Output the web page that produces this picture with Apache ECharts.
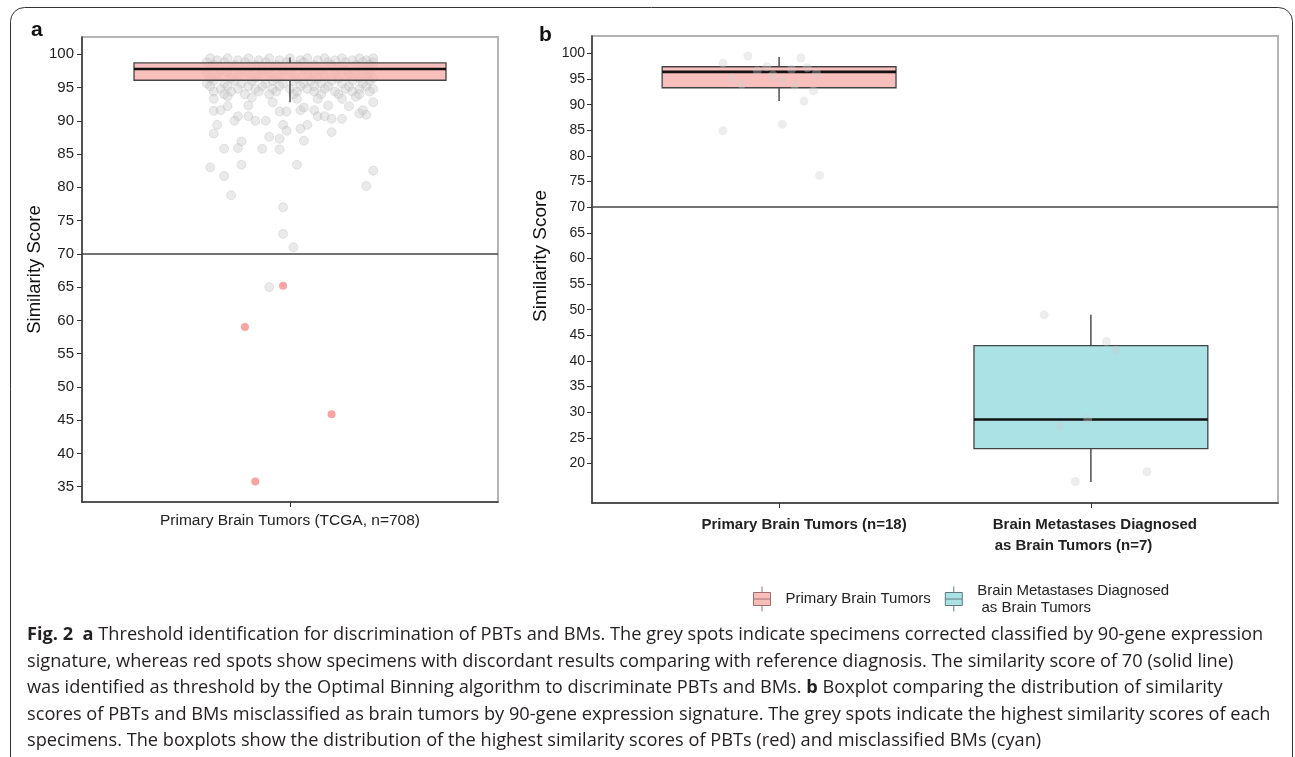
<!DOCTYPE html>
<html lang="en">
<head>
<meta charset="UTF-8" />
<title>Fig. 2</title>
<script src="https://cdn.jsdelivr.net/npm/echarts@6/dist/echarts.min.js"></script>
<style>
    html, body { margin: 0; padding: 0; background: #fff; }
    #chart { width: 1295px; height: 757px; }
</style>
</head>
<body>
<div id="chart"></div>
<script>
// ---- panel a : TCGA primary brain tumors ----
var tcgaLabel = 'Primary Brain Tumors (TCGA, n=708)';
// x, min, q1, median, q3, max
var tcgaBox = [0, 92.8, 96.1, 97.8, 98.7, 99.5];
// dense band: score -> jitter offsets
var tcgaBand = [
    [99.4, [-0.23, -0.18, -0.12, -0.06, 0.0, 0.05, 0.1, 0.15, 0.2, 0.24]],
    [99.1, [-0.21, -0.15, -0.09, -0.03, 0.03, 0.08, 0.13, 0.18, 0.22]],
    [98.8, [-0.24, -0.19, -0.13, -0.07, -0.01, 0.04, 0.11, 0.16, 0.21, 0.24]],
    [98.4, [-0.22, -0.16, -0.1, -0.04, 0.02, 0.07, 0.12, 0.19, 0.23]],
    [98.0, [-0.23, -0.17, -0.11, -0.05, 0.01, 0.06, 0.14, 0.2, 0.24]],
    [97.6, [-0.2, -0.14, -0.08, -0.02, 0.04, 0.09, 0.16, 0.22]],
    [97.2, [-0.24, -0.18, -0.12, -0.06, 0.0, 0.07, 0.13, 0.19, 0.23]],
    [96.8, [-0.21, -0.15, -0.09, -0.03, 0.05, 0.1, 0.17, 0.22]],
    [96.4, [-0.23, -0.17, -0.1, -0.04, 0.02, 0.08, 0.14, 0.2, 0.24]],
    [96.0, [-0.22, -0.16, -0.11, -0.05, 0.01, 0.06, 0.12, 0.18, 0.23]],
    [95.6, [-0.24, -0.19, -0.14, -0.07, -0.02, 0.04, 0.09, 0.15, 0.21]],
    [95.2, [-0.23, -0.18, -0.12, -0.08, -0.03, 0.03, 0.07, 0.11, 0.17, 0.22]],
    [94.8, [-0.2, -0.15, -0.1, -0.05, 0.0, 0.05, 0.1, 0.16, 0.2, 0.24]],
    [94.4, [-0.22, -0.17, -0.09, -0.04, 0.02, 0.07, 0.13, 0.18, 0.23]],
    [94.0, [-0.19, -0.13, -0.06, 0.01, 0.09, 0.14, 0.2]]
];
// scattered grey specimens [jitter, score]
var tcgaSparse = [
    [-0.22, 93.3], [-0.18, 93.7], [-0.11, 93.5], [0.02, 93.3], [0.08, 93.3], [0.15, 93.3], [0.19, 93.6],
    [-0.05, 92.8], [0.04, 92.0], [0.24, 92.8], [-0.18, 92.2], [-0.12, 92.3], [0.11, 92.3], [0.17, 92.2],
    [-0.22, 91.5], [-0.2, 91.6], [-0.03, 91.4], [-0.01, 91.4], [0.03, 91.6], [0.07, 91.6], [0.21, 91.6],
    [-0.15, 90.7], [-0.12, 90.7], [0.08, 90.7], [0.1, 90.7], [0.22, 90.9], [0.2, 91.1],
    [-0.16, 90.0], [-0.1, 90.0], [-0.07, 90.0], [0.12, 90.3], [0.15, 90.3],
    [-0.21, 89.4], [-0.02, 89.4], [0.05, 89.4], [-0.01, 88.5], [0.03, 88.8],
    [-0.22, 88.1], [0.12, 88.3], [-0.06, 87.6], [-0.03, 87.3], [0.04, 87.0], [-0.14, 86.9],
    [-0.19, 85.8], [-0.15, 85.9], [-0.08, 85.8], [-0.03, 85.7],
    [-0.23, 83.0], [-0.14, 83.4], [0.02, 83.4], [0.24, 82.5], [-0.19, 81.7], [0.22, 80.2],
    [-0.17, 78.8], [-0.02, 77.0], [-0.02, 73.0], [0.01, 71.0], [-0.06, 65.0]
];
// discordant specimens (red)
var tcgaRed = [[-0.02, 65.2], [-0.13, 59.0], [0.12, 45.9], [-0.1, 35.8]];
var ticksA = [35, 40, 45, 50, 55, 60, 65, 70, 75, 80, 85, 90, 95, 100];

// ---- panel b : PBTs vs misclassified BMs ----
var groupNames = ['Primary Brain Tumors', 'Brain Metastases Diagnosed\n as Brain Tumors'];
var groupLabels = ['{p1|Primary Brain Tumors (n=18)}', '{p2|Brain Metastases Diagnosed}\n{p3| as Brain Tumors (n=7)}'];
var pbtBox = [1, 90.7, 93.3, 96.4, 97.4, 99.3];
var bmBox = [2, 16.4, 22.9, 28.6, 43.0, 49.0];
var pbtPoints = [
    [0.82, 98.1], [0.9, 99.5], [0.85, 95.2], [0.96, 97.4], [1.01, 94.8], [1.07, 99.1],
    [1.09, 97.2], [1.12, 96.2], [1.11, 92.7], [1.08, 90.7], [1.01, 86.2], [0.82, 84.9],
    [1.13, 76.2], [0.93, 96.6], [1.04, 96.9], [0.88, 94.0], [1.05, 93.8], [0.98, 95.8]
];
var bmPoints = [[1.85, 49.0], [2.05, 43.8], [2.08, 42.1], [1.9, 27.3], [1.99, 28.7], [1.95, 16.5], [2.18, 18.4]];
var ticksB = [20, 25, 30, 35, 40, 45, 50, 55, 60, 65, 70, 75, 80, 85, 90, 95, 100];
var threshold = 70;

var PINK = 'rgba(248,180,176,0.85)';
var CYAN = 'rgba(165,224,228,0.95)';
var FONT = 'Liberation Sans';

var tcgaGrey = [];
tcgaBand.forEach(function (row) {
    row[1].forEach(function (dx) { tcgaGrey.push([dx, row[0]]); });
});
tcgaGrey = tcgaGrey.concat(tcgaSparse);

function boxRenderer(half, fill) {
    return function (params, api) {
        var x = api.value(0);
        var lo = api.coord([x, api.value(1)]);
        var q1 = api.coord([x, api.value(2)]);
        var q3 = api.coord([x, api.value(4)]);
        var hi = api.coord([x, api.value(5)]);
        var l = api.coord([x - half, api.value(3)]);
        var r = api.coord([x + half, api.value(3)]);
        var line = { stroke: '#333', lineWidth: 1.3 };
        return {
            type: 'group',
            children: [
                { type: 'line', shape: { x1: lo[0], y1: lo[1], x2: q1[0], y2: q1[1] }, style: line },
                { type: 'line', shape: { x1: q3[0], y1: q3[1], x2: hi[0], y2: hi[1] }, style: line },
                { type: 'rect', shape: { x: l[0], y: q3[1], width: r[0] - l[0], height: q1[1] - q3[1] },
                  style: { fill: fill, stroke: '#444', lineWidth: 1.3 } },
                { type: 'line', shape: { x1: l[0], y1: l[1], x2: r[0], y2: r[1] }, style: { stroke: '#111', lineWidth: 2.6 } }
            ]
        };
    };
}

function yAxis(grid, min, max, ticks, size, margin, gap, titleSize, titlePad) {
    return {
        gridIndex: grid, type: 'value', min: min, max: max,
        axisLine: { show: true, onZero: false, lineStyle: { color: '#333', width: 1.5 } },
        axisTick: { show: true, customValues: ticks, length: 5, lineStyle: { color: '#333' } },
        axisLabel: { customValues: ticks, fontSize: size, color: '#222', margin: margin, fontFamily: FONT },
        splitLine: { show: false },
        name: 'Similarity Score', nameLocation: 'middle', nameGap: gap,
        nameTextStyle: { fontSize: titleSize, color: '#111', fontFamily: FONT, padding: titlePad }
    };
}

var thresholdLine = {
    symbol: 'none', silent: true, label: { show: false },
    lineStyle: { color: '#444', width: 1.5, type: 'solid' },
    data: [{ yAxis: threshold }]
};

var caption = [
    '{b|Fig. 2}  {b|a} Threshold identification for discrimination of PBTs and BMs. The grey spots indicate specimens corrected classified by 90-gene expression',
    'signature, whereas red spots show specimens with discordant results comparing with reference diagnosis. The similarity score of 70 (solid line)',
    'was identified as threshold by the Optimal Binning algorithm to discriminate PBTs and BMs. {b|b} Boxplot comparing the distribution of similarity',
    'scores of PBTs and BMs misclassified as brain tumors by 90-gene expression signature. The grey spots indicate the highest similarity scores of each',
    'specimens. The boxplots show the distribution of the highest similarity scores of PBTs (red) and misclassified BMs (cyan)'
];

var boxIcon = 'path://M8.5,0L8.5,6M0,6L17,6L17,19L0,19ZM0,12.5L17,12.5M8.5,19L8.5,25';

var labelFont = { fontSize: 15, fontWeight: 'bold', color: '#222', fontFamily: FONT, lineHeight: 21 };

var chart = echarts.init(document.getElementById('chart'));
var option = {
    animation: false,
    textStyle: { fontFamily: FONT },
    grid: [
        { left: 82, top: 37, width: 416, height: 465, show: true, borderColor: '#b5b5b5', borderWidth: 2 },
        { left: 592, top: 36, width: 686, height: 467, show: true, borderColor: '#b5b5b5', borderWidth: 2 }
    ],
    xAxis: [
        {
            gridIndex: 0, type: 'value', min: -0.6, max: 0.6,
            axisLine: { show: true, onZero: false, lineStyle: { color: '#333', width: 1.5 } },
            axisTick: { show: true, customValues: [0], length: 5, lineStyle: { color: '#333' } },
            axisLabel: { customValues: [0], formatter: function () { return tcgaLabel; },
                         fontSize: 15.5, color: '#222', margin: 11 },
            splitLine: { show: false }
        },
        {
            gridIndex: 1, type: 'value', min: 0.4, max: 2.6,
            axisLine: { show: true, onZero: false, lineStyle: { color: '#333', width: 1.5 } },
            axisTick: { show: true, customValues: [1, 2], length: 5, lineStyle: { color: '#333' } },
            axisLabel: {
                customValues: [1, 2], formatter: function (v) { return groupLabels[Math.round(v) - 1]; },
                fontSize: 15, fontWeight: 'bold', color: '#222', margin: 11, lineHeight: 21,
                rich: {
                    p1: Object.assign({ padding: [0, 0, 0, 50] }, labelFont),
                    p2: Object.assign({ padding: [0, 0, 0, 8] }, labelFont),
                    p3: Object.assign({ padding: [0, 39, 0, 0] }, labelFont)
                }
            },
            splitLine: { show: false }
        }
    ],
    yAxis: [
        yAxis(0, 32.7, 102.6, ticksA, 15, 8, 38, 18.5, 0),
        yAxis(1, 12.3, 103.4, ticksB, 14, 7, 40, 19, [0, 0, 0, 27])
    ],
    legend: {
        left: 753, top: 582, padding: 0, itemWidth: 17, itemHeight: 25, itemGap: 14,
        selectedMode: false, icon: boxIcon,
        textStyle: { fontSize: 15, color: '#222', lineHeight: 17, padding: [0, 0, 0, 10] },
        data: [
            { name: groupNames[0], itemStyle: { color: '#F8BDB9', borderColor: '#a07070', borderWidth: 1 } },
            { name: groupNames[1], itemStyle: { color: '#A9E2E5', borderColor: '#607a7c', borderWidth: 1 } }
        ]
    },
    series: [
        {
            name: 'TCGA specimens', type: 'scatter', xAxisIndex: 0, yAxisIndex: 0, z: 2,
            symbolSize: 9, data: tcgaGrey,
            itemStyle: { color: 'rgba(196,196,196,0.45)', borderColor: 'rgba(160,160,160,0.35)', borderWidth: 0.8 },
            markLine: thresholdLine
        },
        {
            name: 'TCGA box', type: 'custom', xAxisIndex: 0, yAxisIndex: 0, z: 3,
            renderItem: boxRenderer(0.45, PINK), encode: { x: 0, y: [1, 2, 3, 4, 5] },
            data: [tcgaBox]
        },
        {
            name: 'Discordant', type: 'scatter', xAxisIndex: 0, yAxisIndex: 0, z: 4,
            symbolSize: 8, data: tcgaRed,
            itemStyle: { color: 'rgba(248,122,118,0.85)' }
        },
        {
            name: groupNames[0], type: 'custom', xAxisIndex: 1, yAxisIndex: 1, z: 3,
            renderItem: boxRenderer(0.375, PINK), encode: { x: 0, y: [1, 2, 3, 4, 5] },
            data: [pbtBox]
        },
        {
            name: groupNames[1], type: 'custom', xAxisIndex: 1, yAxisIndex: 1, z: 3,
            renderItem: boxRenderer(0.375, CYAN), encode: { x: 0, y: [1, 2, 3, 4, 5] },
            data: [bmBox]
        },
        {
            name: 'Specimens', type: 'scatter', xAxisIndex: 1, yAxisIndex: 1, z: 4,
            symbolSize: 9, data: pbtPoints.concat(bmPoints),
            itemStyle: { color: 'rgba(205,205,205,0.45)' },
            markLine: thresholdLine
        }
    ],
    graphic: [
        { type: 'rect', shape: { x: 10.5, y: 7.5, width: 1282, height: 820, r: 14 },
          style: { fill: 'none', stroke: '#333', lineWidth: 1 }, silent: true },
        { type: 'text', left: 31, top: 20, style: { text: 'a', font: 'bold 21px "Liberation Sans"', fill: '#111' } },
        { type: 'text', left: 539, top: 25, style: { text: 'b', font: 'bold 21px "Liberation Sans"', fill: '#111' } },
        {
            type: 'text', left: 27, top: 622,
            style: {
                text: caption.join('\n'), fill: '#231f20',
                fontSize: 18.2, fontFamily: 'Open Sans', lineHeight: 26.5,
                rich: { b: { fontWeight: 'bold', fontSize: 18.2, fontFamily: 'Open Sans', lineHeight: 26.5 } }
            }
        }
    ]
};
chart.setOption(option);
window.addEventListener('resize', function () { chart.resize(); });
</script>
</body>
</html>
